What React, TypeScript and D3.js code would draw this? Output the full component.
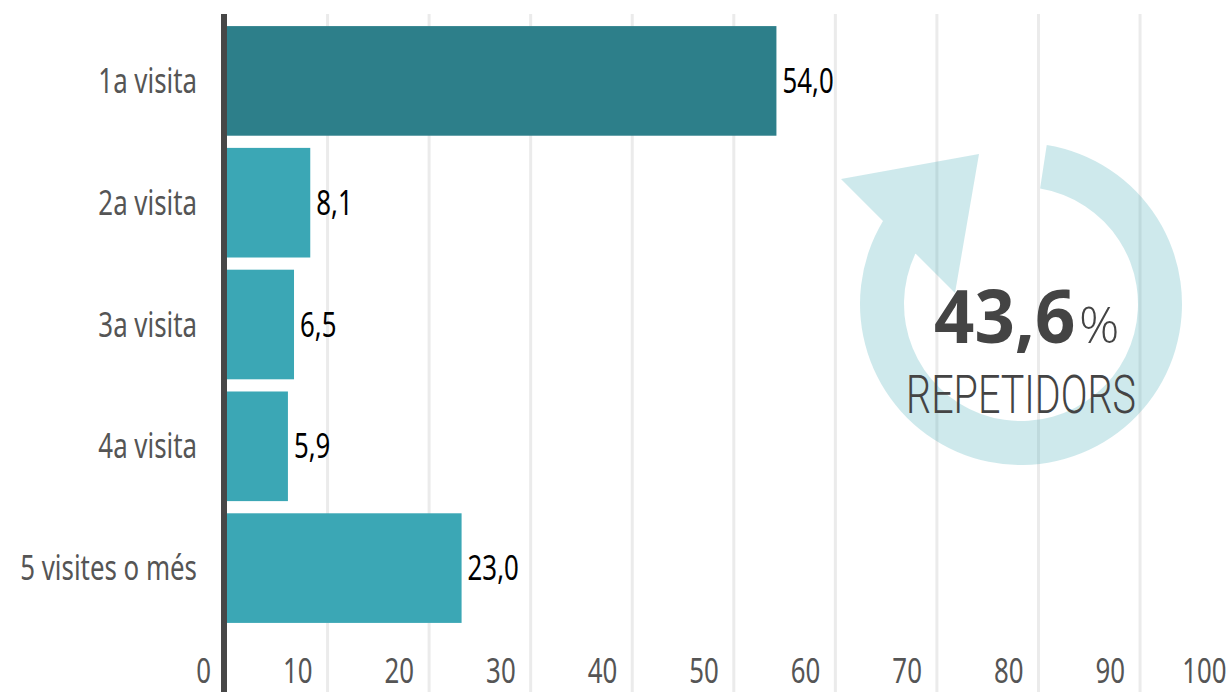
import React, { useEffect, useRef } from "react";
import * as d3 from "d3";

const categories = ["1a visita", "2a visita", "3a visita", "4a visita", "5 visites o més"];
const values = [54.0, 8.1, 6.5, 5.9, 23.0];
const xTicks = [0, 10, 20, 30, 40, 50, 60, 70, 80, 90, 100];
const repeaters = "43,6";
const repeatersLabel = "REPETIDORS";

const W = 1232;
const H = 692;
const SANS = "'Noto Sans', sans-serif";
const SQUEEZE = 0.76; // no narrow font here, so the labels get squeezed
const BAR_NUDGE = 2; // bars run slightly past the gridlines in the original
const fmt = (v: number) => v.toFixed(1).replace(".", ",");

const App = () => {
  const svgRef = useRef<SVGSVGElement | null>(null);

  useEffect(() => {
    const svg = d3.select(svgRef.current);
    svg.selectAll("*").remove();

    const x = d3.scaleLinear().domain([0, 100]).range([226, 1241.6]);
    const y = d3
      .scaleBand<string>()
      .domain(categories)
      .range([20, 629])
      .paddingInner(0.1)
      .paddingOuter(0.05);

    const at = (px: number, py: number) => `translate(${px},${py}) scale(${SQUEEZE},1)`;

    // gridlines
    svg
      .append("g")
      .selectAll("line")
      .data(xTicks.slice(1))
      .join("line")
      .attr("x1", (d) => x(d))
      .attr("x2", (d) => x(d))
      .attr("y1", 14)
      .attr("y2", H)
      .attr("stroke", "#ebebeb")
      .attr("stroke-width", 3);

    // bars
    svg
      .append("g")
      .selectAll("rect")
      .data(values)
      .join("rect")
      .attr("x", x(0))
      .attr("y", (_, i) => y(categories[i])!)
      .attr("width", (d) => x(d) - x(0) + BAR_NUDGE)
      .attr("height", y.bandwidth())
      .attr("fill", (_, i) => (i === 0 ? "#2d7f8a" : "#3ba7b5"));

    // value labels
    svg
      .append("g")
      .selectAll("text")
      .data(values)
      .join("text")
      .attr("transform", (d, i) =>
        at(x(d) + BAR_NUDGE + 6, y(categories[i])! + y.bandwidth() / 2 + 12)
      )
      .attr("font-family", SANS)
      .attr("font-size", 34)
      .attr("fill", "#000")
      .text((d) => fmt(d));

    // category labels
    svg
      .append("g")
      .selectAll("text")
      .data(categories)
      .join("text")
      .attr("transform", (d) => at(197, y(d)! + y.bandwidth() / 2 + 12))
      .attr("text-anchor", "end")
      .attr("font-family", SANS)
      .attr("font-size", 34)
      .attr("fill", "#555")
      .text((d) => d);

    // x axis labels
    svg
      .append("g")
      .selectAll("text")
      .data(xTicks)
      .join("text")
      .attr("transform", (d) => at(x(d) - 15, 683))
      .attr("text-anchor", "end")
      .attr("font-family", SANS)
      .attr("font-size", 34)
      .attr("fill", "#555")
      .text((d) => d);

    // axis line
    svg
      .append("line")
      .attr("x1", 224)
      .attr("x2", 224)
      .attr("y1", 14)
      .attr("y2", H)
      .attr("stroke", "#474747")
      .attr("stroke-width", 6);

    // circular arrow
    const cx = 1021;
    const cy = 304;
    const rOut = 161;
    const rIn = 117;
    const rad = (deg: number) => (deg * Math.PI) / 180;
    const p = d3.path();
    p.arc(cx, cy, rOut, rad(-80.8), rad(-149), false);
    p.lineTo(841, 179);
    p.lineTo(979, 154);
    p.lineTo(955, 293);
    p.lineTo(916, 254);
    p.arc(cx, cy, rIn, rad(-154.6), rad(-80.6), true);
    p.closePath();
    svg
      .append("path")
      .attr("d", p.toString())
      .attr("fill", "#3ba7b5")
      .attr("fill-opacity", 0.25);

    // callout
    svg
      .append("text")
      .attr("transform", "translate(934,343) scale(0.955,1)")
      .attr("font-family", SANS)
      .attr("font-weight", 700)
      .attr("font-size", 74)
      .attr("fill", "#444")
      .text(repeaters);
    svg
      .append("text")
      .attr("x", 1079)
      .attr("y", 343)
      .attr("font-family", "'Open Sans', sans-serif")
      .attr("font-weight", 300)
      .attr("font-size", 50)
      .attr("fill", "#444")
      .text("%");
    svg
      .append("text")
      .attr("transform", "translate(1021,413) scale(0.745,1)")
      .attr("text-anchor", "middle")
      .attr("font-family", "Roboto, sans-serif")
      .attr("font-weight", 300)
      .attr("font-size", 53)
      .attr("fill", "#444")
      .text(repeatersLabel);
  }, []);

  return (
    <svg
      ref={svgRef}
      width={W}
      height={H}
      style={{ position: "absolute", left: 0, top: 0, background: "#fff" }}
    ></svg>
  );
};

export default App;
